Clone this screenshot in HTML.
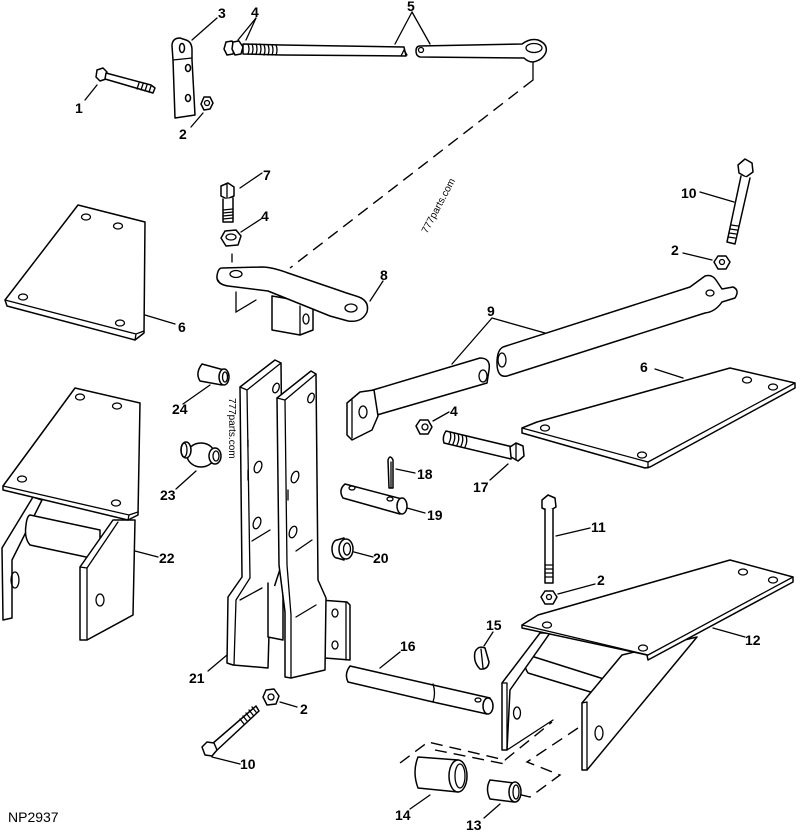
<!DOCTYPE html>
<html><head><meta charset="utf-8"><style>
html,body{margin:0;padding:0;background:#fff;}
svg{display:block;}
.p{fill:#fff;stroke:#000;stroke-width:1.5;stroke-linejoin:round;stroke-linecap:round;}
.l{fill:none;stroke:#000;stroke-width:1.3;stroke-linecap:round;}
.d{fill:none;stroke:#000;stroke-width:1.4;stroke-dasharray:12 7;}
.t{font-family:"Liberation Sans",sans-serif;font-size:14px;font-weight:bold;fill:#000;}
.w{font-family:"Liberation Sans",sans-serif;font-size:10px;fill:#000;}
</style></head><body>
<svg width="800" height="832" viewBox="0 0 800 832" xmlns="http://www.w3.org/2000/svg">
<!-- Part 1 bolt -->
<polygon class="p" points="97,70 103,68 107,72 106,79 100,81 96,77"/>
<path class="p" d="M106,73 L151,85 L155,88 L153,93 L105,79 Z"/>
<path class="l" d="M139,83 L137,89 M143,84 L141,90 M147,85 L145,91 M151,86 L149,92"/>
<line class="l" x1="97" y1="85" x2="85" y2="100"/>
<text class="t" x="75" y="113">1</text>
<!-- Part 3 -->
<path class="p" d="M173,60 L172,46 Q172,38 180,38 L186,40 Q192,42 192,50 L192,60 L195,115 L175,118 Z"/>
<line class="l" x1="173" y1="60" x2="192" y2="58"/>
<ellipse class="p" cx="182" cy="48" rx="2.5" ry="4.5"/>
<ellipse class="p" cx="188" cy="68" rx="2.5" ry="3.5"/>
<ellipse class="p" cx="188" cy="98" rx="2.5" ry="3.5"/>
<line class="l" x1="192" y1="40" x2="217" y2="18"/>
<text class="t" x="218" y="18">3</text>
<!-- Part 2 nut -->
<polygon class="p" points="213,103 210,109 204,110 201,104 204,97 210,97"/>
<circle class="l" cx="207" cy="103" r="2.5"/>
<line class="l" x1="203" y1="113" x2="191" y2="127"/>
<text class="t" x="179" y="139">2</text>
<!-- Part 4 pair nuts -->
<polygon class="p" points="226,42 232,41 235,47 233,54 227,55 224,49"/>
<polygon class="p" points="233,42 239,41 243,47 241,54 235,55 232,49"/>
<line class="l" x1="256" y1="18" x2="238" y2="40"/>
<line class="l" x1="256" y1="18" x2="246" y2="40"/>
<text class="t" x="251" y="17">4</text>
<!-- Part 5 rods -->
<path class="p" d="M243,44 L282,45 L404,47 L406,56 L282,55 L243,54 Z"/>
<path class="l" d="M248,44 Q250,49 248,54 M252,44 Q254,49 252,54 M256,44 Q258,49 256,54 M260,44 Q262,49 260,54 M264,45 Q266,50 264,55 M268,45 Q270,50 268,55 M272,45 Q274,50 272,55 M276,45 Q278,50 276,55"/>
<path class="l" d="M401,56 L404,50 L407,55"/>
<path class="p" d="M420,46 L522,44 Q530,38 538,40 Q548,44 546,52 Q543,60 533,62 Q528,62 524,58 L420,57 Q416,56 416,51 Q416,46 420,46 Z"/>
<ellipse class="l" cx="534" cy="48" rx="8" ry="4.5"/>
<circle class="l" cx="421" cy="50" r="2.5"/>
<line class="l" x1="412" y1="12" x2="395" y2="44"/>
<line class="l" x1="412" y1="12" x2="430" y2="44"/>
<text class="t" x="407" y="11">5</text>
<line class="l" x1="533" y1="63" x2="533" y2="80"/>
<line class="d" x1="533" y1="80" x2="290" y2="268"/>
<!-- Part 7 bolt -->
<polygon class="p" points="221,186 228,183 234,187 234,196 227,199 221,196"/>
<line class="l" x1="227" y1="184" x2="227" y2="199"/>
<path class="p" d="M223,199 L223,222 L233,222 L233,198"/>
<path class="l" d="M223,210 L233,209 M223,213 L233,212 M223,216 L233,215 M223,219 L233,218"/>
<line class="l" x1="240" y1="188" x2="262" y2="173"/>
<text class="t" x="263" y="180">7</text>
<!-- Part 4 nut -->
<polygon class="p" points="221,238 225,231 236,230 241,236 238,245 226,246"/>
<ellipse class="l" cx="231" cy="237" rx="5" ry="3"/>
<line class="l" x1="241" y1="232" x2="261" y2="219"/>
<text class="t" x="261" y="221">4</text>
<line class="l" x1="232" y1="254" x2="232" y2="262"/>
<!-- Part 8 -->
<path class="l" d="M236,292 L236,312 L256,300"/>
<polygon class="p" points="272,296 272,330 300,335 313,330 313,303"/>
<line class="l" x1="300" y1="306" x2="300" y2="335"/>
<ellipse class="l" cx="306" cy="319" rx="3" ry="5"/>
<path class="p" d="M222,268 L262,267 Q272,267 288,273 L335,289 Q346,293 356,296 Q370,300 367,312 Q362,323 348,321 L330,316 L268,291 L228,286 Q216,284 217,276 Q218,268 222,268 Z"/>
<path class="l" d="M218,280 Q220,285 228,286"/>
<ellipse class="l" cx="236" cy="274" rx="6" ry="3.5"/>
<ellipse class="l" cx="351" cy="308" rx="6" ry="4"/>
<line class="l" x1="370" y1="301" x2="383" y2="281"/>
<text class="t" x="380" y="280">8</text>
<!-- Part 6 left plate -->
<polygon class="p" points="78,205 145,222 144,333 135,340 7,306 5,300"/>
<path class="l" d="M5,300 L136,334 L144,331 M136,334 L135,340"/>
<ellipse class="l" cx="86" cy="217" rx="4.5" ry="3"/>
<ellipse class="l" cx="118" cy="226" rx="4.5" ry="3"/>
<ellipse class="l" cx="23" cy="297" rx="4.5" ry="3"/>
<ellipse class="l" cx="120" cy="323" rx="4.5" ry="3"/>
<line class="l" x1="145" y1="315" x2="175" y2="324"/>
<text class="t" x="178" y="332">6</text>
<!-- Part 22 -->
<path class="p" d="M2,548 L33,497 L42,500 L12,560 L12,618 L3,620 Z"/>
<ellipse class="l" cx="15" cy="580" rx="4" ry="8"/>
<path class="p" d="M30,515 L100,530 L100,560 L30,545 Q24,538 26,525 Q27,516 30,515 Z"/>
<path class="p" d="M80,567 L113,520 L135,520 L133,615 L87,640 L80,640 Z"/>
<path class="l" d="M87,568 L87,640 M80,567 L87,568 M87,568 L118,522"/>
<ellipse class="l" cx="100" cy="600" rx="4" ry="6"/>
<polygon class="p" points="75,388 140,403 138,515 128,520 3,490 3,486"/>
<path class="l" d="M3,486 L129,515 L138,512 M129,515 L128,520"/>
<ellipse class="l" cx="80" cy="397" rx="4.5" ry="3"/>
<ellipse class="l" cx="117" cy="406" rx="4.5" ry="3"/>
<ellipse class="l" cx="22" cy="479" rx="4.5" ry="3"/>
<ellipse class="l" cx="116" cy="503" rx="4.5" ry="3"/>
<line class="l" x1="135" y1="551" x2="158" y2="557"/>
<text class="t" x="159" y="563">22</text>
<!-- Part 24 -->
<path class="p" d="M202,364 L224,370 L222,385 L200,381 Q195,373 202,364 Z"/>
<ellipse class="p" cx="224" cy="377" rx="5" ry="8"/>
<ellipse class="l" cx="225" cy="377" rx="2.5" ry="5"/>
<line class="l" x1="210" y1="385" x2="183" y2="404"/>
<text class="t" x="172" y="414">24</text>
<!-- Part 23 -->
<ellipse class="p" cx="201" cy="455" rx="14" ry="12"/>
<ellipse class="p" cx="186" cy="450" rx="5" ry="8"/>
<ellipse class="l" cx="184" cy="450" rx="3" ry="7"/>
<ellipse class="p" cx="215" cy="456" rx="6" ry="8"/>
<ellipse class="l" cx="216" cy="456" rx="3" ry="5"/>
<line class="l" x1="196" y1="471" x2="176" y2="489"/>
<text class="t" x="160" y="500">23</text>
<!-- Part 21 -->
<polygon class="p" points="240,387 275,360 281,363 283,560 270,600 268,668 233,665 227,663 228,597 242,577"/>
<path class="l" d="M240,387 L247,390 L281,363 M247,390 L250,578 L236,600 L234,665"/>
<ellipse class="l" cx="276" cy="388" rx="3" ry="5" transform="rotate(20 276 388)"/>
<ellipse class="l" cx="258" cy="467" rx="3.5" ry="6" transform="rotate(20 258 467)"/>
<ellipse class="l" cx="257" cy="523" rx="3.5" ry="6" transform="rotate(20 257 523)"/>
<path class="l" d="M248,470 L248,480 M248,440 L248,447 M252,541 L270,530 M240,600 L262,588"/>
<path class="p" d="M268,583 L268,637 L283,640 L283,590"/>
<polygon class="p" points="320,600 347,602 350,605 350,660 325,658 322,655"/>
<line class="l" x1="346" y1="602" x2="346" y2="660"/>
<ellipse class="l" cx="335" cy="613" rx="3" ry="4"/>
<ellipse class="l" cx="335" cy="645" rx="3" ry="4"/>
<polygon class="p" points="277,398 311,371 316,374 318,580 326,598 325,670 291,678 285,677 285,612 279,565"/>
<path class="l" d="M277,398 L285,400 L316,374 M285,400 L287,565 L291,615 L291,678"/>
<ellipse class="l" cx="311" cy="398" rx="3" ry="5" transform="rotate(20 311 398)"/>
<ellipse class="l" cx="295" cy="477" rx="3.5" ry="6" transform="rotate(20 295 477)"/>
<ellipse class="l" cx="293" cy="532" rx="3.5" ry="6" transform="rotate(20 293 532)"/>
<path class="l" d="M288,490 L288,500 M296,551 L312,540 M296,617 L316,605"/>
<line class="l" x1="227" y1="655" x2="208" y2="671"/>
<text class="t" x="189" y="683">21</text>
<text class="w" transform="translate(229,398) rotate(90)">777parts.com</text>
<!-- Part 9 lower arm -->
<path class="p" d="M373,390 L480,358 Q491,358 489,370 L487,383 L377,415 Z"/>
<ellipse class="l" cx="483" cy="376" rx="4" ry="6"/>
<path class="p" d="M347,403 L360,392 L374,390 L378,416 L372,430 L352,440 L347,435 Z"/>
<line class="l" x1="352" y1="400" x2="352" y2="438"/>
<ellipse class="l" cx="363" cy="412" rx="4" ry="6"/>
<!-- Part 9 upper arm -->
<path class="p" d="M503,347 L690,287 L705,276 Q712,274 716,280 L722,289 L733,287 Q740,290 735,298 L722,302 Q715,312 705,313 L507,376 Q497,378 497,363 Q497,350 503,347 Z"/>
<ellipse class="l" cx="502" cy="360" rx="4" ry="7"/>
<ellipse class="l" cx="710" cy="293" rx="4" ry="3"/>
<path class="l" d="M492,318 L545,333 M492,318 L452,364"/>
<text class="t" x="487" y="316">9</text>
<!-- Part 10 top right -->
<polygon class="p" points="738,165 745,159 752,163 753,172 746,177 739,173"/>
<path class="p" d="M741,176 L727,242 L735,244 L750,178"/>
<path class="l" d="M731,225 L738,226 M730,229 L737,230 M729,233 L736,234 M728,237 L735,238"/>
<line class="l" x1="700" y1="192" x2="734" y2="202"/>
<text class="t" x="681" y="198">10</text>
<polygon class="p" points="714,262 718,256 726,256 730,262 726,269 718,269"/>
<circle class="l" cx="722" cy="262" r="2.5"/>
<line class="l" x1="683" y1="253" x2="712" y2="260"/>
<text class="t" x="671" y="255">2</text>
<!-- Part 6 right plate -->
<polygon class="p" points="522,428 537,422 730,368 795,383 795,388 650,467 645,468 522,433"/>
<path class="l" d="M522,428 L648,462 L795,383 M648,462 L648,468"/>
<ellipse class="l" cx="545" cy="428" rx="4.5" ry="3"/>
<ellipse class="l" cx="747" cy="380" rx="4.5" ry="3"/>
<ellipse class="l" cx="773" cy="387" rx="4.5" ry="3"/>
<ellipse class="l" cx="642" cy="455" rx="4.5" ry="3"/>
<line class="l" x1="655" y1="369" x2="683" y2="378"/>
<text class="t" x="640" y="372">6</text>
<!-- Part 4 nut & 17 bolt -->
<polygon class="p" points="416,426 420,420 428,420 432,427 428,434 420,434"/>
<circle class="l" cx="425" cy="427" r="3"/>
<line class="l" x1="433" y1="421" x2="449" y2="412"/>
<text class="t" x="450" y="416">4</text>
<path class="p" d="M446,431 L513,447 L511,459 L444,443 Q442,437 446,431 Z"/>
<path class="l" d="M450,432 Q452,437 449,443 M454,433 Q456,438 453,444 M458,434 Q460,439 457,445 M462,435 Q464,440 461,446 M466,436 Q468,441 465,447"/>
<polygon class="p" points="510,447 516,443 523,446 524,456 518,461 511,457"/>
<line class="l" x1="516" y1="444" x2="516" y2="460"/>
<line class="l" x1="508" y1="464" x2="490" y2="480"/>
<text class="t" x="473" y="492">17</text>
<!-- Part 18 cotter -->
<path class="p" d="M388,460 Q390,454 393,460 L393,488 L389,488 Z"/>
<line class="l" x1="391" y1="462" x2="391" y2="488"/>
<line class="l" x1="396" y1="469" x2="415" y2="473"/>
<text class="t" x="417" y="479">18</text>
<!-- Part 19 pin -->
<path class="p" d="M345,484 L402,499 L400,514 L343,498 Q338,490 345,484 Z"/>
<ellipse class="p" cx="402" cy="506" rx="5" ry="8"/>
<ellipse class="l" cx="352" cy="488" rx="3" ry="2"/>
<ellipse class="l" cx="390" cy="499" rx="3" ry="2"/>
<line class="l" x1="407" y1="508" x2="425" y2="513"/>
<text class="t" x="427" y="520">19</text>
<!-- Part 20 bushing -->
<ellipse class="p" cx="337" cy="549" rx="5" ry="9"/>
<path class="p" d="M337,540 L344,538 L344,560 L337,558"/>
<ellipse class="p" cx="346" cy="549" rx="7" ry="10"/>
<ellipse class="l" cx="347" cy="549" rx="3.5" ry="6"/>
<line class="l" x1="354" y1="552" x2="373" y2="557"/>
<text class="t" x="373" y="563">20</text>
<!-- Part 11 bolt -->
<polygon class="p" points="542,500 548,495 555,498 556,507 549,511 542,508"/>
<path class="p" d="M545,509 L545,583 L553,583 L553,509"/>
<path class="l" d="M545,565 L553,565 M545,569 L553,569 M545,573 L553,573 M545,577 L553,577"/>
<line class="l" x1="556" y1="536" x2="590" y2="528"/>
<text class="t" x="591" y="532">11</text>
<polygon class="p" points="541,597 545,591 553,591 557,597 553,604 545,604"/>
<circle class="l" cx="549" cy="597" r="2.5"/>
<line class="l" x1="558" y1="594" x2="595" y2="584"/>
<text class="t" x="597" y="585">2</text>
<!-- Part 12 -->
<path class="p" d="M528,655 L607,680 L607,697 L528,673 Q522,664 528,655 Z"/>
<path class="p" d="M502,683 L540,633 L550,633 L510,690 L507,750 L502,750 Z"/>
<path class="l" d="M507,683 L507,750 M502,683 L507,683 M507,750 L553,720"/>
<ellipse class="l" cx="517" cy="713" rx="3.5" ry="6"/>
<path class="p" d="M582,703 L622,655 L697,637 L587,770 L582,770 Z"/>
<path class="l" d="M587,702 L587,770 M582,703 L587,702"/>
<ellipse class="l" cx="599" cy="733" rx="4" ry="7"/>
<polygon class="p" points="522,625 538,615 730,560 793,577 793,582 648,660 647,655 522,628"/>
<path class="l" d="M522,625 L648,655 L793,577"/>
<ellipse class="l" cx="547" cy="625" rx="4.5" ry="3"/>
<ellipse class="l" cx="643" cy="648" rx="4.5" ry="3"/>
<ellipse class="l" cx="743" cy="572" rx="4.5" ry="3"/>
<ellipse class="l" cx="773" cy="580" rx="4.5" ry="3"/>
<line class="l" x1="713" y1="628" x2="745" y2="637"/>
<text class="t" x="745" y="645">12</text>
<!-- Part 15 clip -->
<path class="p" d="M475,652 Q478,645 485,648 L489,662 Q488,670 480,669 Q473,662 475,652 Z"/>
<line class="l" x1="481" y1="649" x2="483" y2="668"/>
<line class="l" x1="484" y1="646" x2="493" y2="632"/>
<text class="t" x="486" y="630">15</text>
<!-- Part 16 pin -->
<path class="p" d="M350,666 L433,685 L490,698 L487,714 L433,702 L348,682 Q344,674 350,666 Z"/>
<path class="l" d="M433,684 Q436,693 433,702"/>
<ellipse class="p" cx="488" cy="706" rx="5" ry="8"/>
<ellipse class="l" cx="478" cy="700" rx="3" ry="2"/>
<line class="l" x1="380" y1="668" x2="400" y2="652"/>
<text class="t" x="400" y="651">16</text>
<!-- Part 2 nut lower -->
<polygon class="p" points="263,697 266,690 274,689 279,696 276,704 267,705"/>
<circle class="l" cx="271" cy="697" r="3"/>
<line class="l" x1="280" y1="702" x2="297" y2="707"/>
<text class="t" x="300" y="714">2</text>
<!-- Part 10 bolt lower -->
<path class="p" d="M212,744 L256,706 L259,711 L215,752 Z"/>
<path class="l" d="M240,719 L244,724 M243,716 L247,721 M246,713 L250,718 M249,710 L253,715 M252,707 L256,712"/>
<polygon class="p" points="202,747 207,742 214,743 217,750 212,756 205,755"/>
<line class="l" x1="212" y1="757" x2="240" y2="764"/>
<text class="t" x="240" y="769">10</text>
<!-- dashed lines bottom -->
<path class="d" d="M400,763 L428,742 L505,760 L552,722"/>
<path class="d" d="M578,728 L527,762 L560,775 L530,797 L500,790"/>
<path class="d" d="M435,750 L505,764"/>
<!-- Part 14 -->
<path class="p" d="M418,757 L458,760 L458,792 L418,788 Q412,772 418,757 Z"/>
<ellipse class="p" cx="458" cy="776" rx="9" ry="16"/>
<ellipse class="l" cx="460" cy="776" rx="5" ry="12"/>
<line class="l" x1="430" y1="795" x2="410" y2="809"/>
<text class="t" x="395" y="820">14</text>
<!-- Part 13 -->
<path class="p" d="M490,780 L514,783 L514,802 L490,799 Q485,789 490,780 Z"/>
<ellipse class="p" cx="515" cy="792" rx="6" ry="10"/>
<ellipse class="l" cx="516" cy="792" rx="3" ry="7"/>
<line class="l" x1="500" y1="804" x2="484" y2="818"/>
<text class="t" x="466" y="830">13</text>
<!-- watermark and id -->
<text class="w" transform="translate(427,234) rotate(-62)">777parts.com</text>
<text x="8" y="822" style="font-family:'Liberation Sans',sans-serif;font-size:14px;fill:#000;">NP2937</text>
</svg>
</body></html>
